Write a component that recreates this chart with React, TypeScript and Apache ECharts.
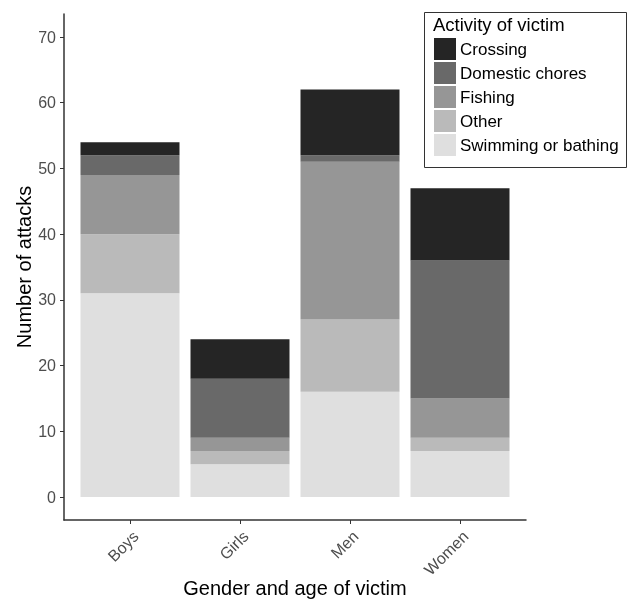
import React, { useEffect, useRef } from "react";
import * as echarts from "echarts";

const categories = ["Boys", "Girls", "Men", "Women"];
const swimming = [31, 5, 16, 7];
const other = [9, 2, 11, 2];
const fishing = [9, 2, 24, 6];
const domestic = [3, 9, 1, 21];
const crossing = [2, 6, 10, 11];
const yTicks = [0, 10, 20, 30, 40, 50, 60, 70];
const legendOrder = ["Crossing", "Domestic chores", "Fishing", "Other", "Swimming or bathing"];

const FONT = "Liberation Sans, Arial, Helvetica, sans-serif";

export default function App() {
  const ref = useRef<HTMLDivElement>(null);
  useEffect(() => {
    if (!ref.current) return;
    const chart = echarts.init(ref.current, undefined, { renderer: "svg" });
    const mk = (name: string, data: number[], color: string) => ({
      name,
      type: "bar",
      stack: "total",
      xAxisIndex: 0,
      yAxisIndex: 0,
      barWidth: "90%",
      data,
      itemStyle: { color },
      emphasis: { disabled: true },
    });
    chart.setOption({
      animation: false,
      textStyle: { fontFamily: FONT },
      grid: [
        { left: 75, width: 440, top: 14, height: 506, containLabel: false, outerBoundsMode: "none" },
        { left: 64, width: 462, top: 14, height: 506, containLabel: false, outerBoundsMode: "none" },
      ],
      xAxis: [
        {
          type: "category",
          gridIndex: 0,
          data: categories,
          axisLine: { show: false, onZero: false },
          axisTick: { show: true, alignWithLabel: true, length: 4, lineStyle: { color: "#333", width: 1 } },
          axisLabel: { rotate: 45, fontSize: 16, color: "#4d4d4d", margin: 8, verticalAlign: "top", fontFamily: FONT },
          name: "Gender and age of victim",
          nameLocation: "middle",
          nameMoveOverlap: false,
          nameGap: 58,
          nameTextStyle: { fontSize: 20, color: "#000", fontFamily: FONT },
        },
        {
          type: "value",
          gridIndex: 1,
          min: 0,
          max: 1,
          axisLine: { show: true, onZero: false, lineStyle: { color: "#333", width: 1.5 } },
          axisTick: { show: false },
          axisLabel: { show: false },
          splitLine: { show: false },
        },
      ],
      yAxis: [
        {
          type: "value",
          gridIndex: 0,
          min: -3.5,
          max: 73.5,
          offset: 11,
          axisLine: { show: true, onZero: false, lineStyle: { color: "#333", width: 1.5 } },
          axisTick: { show: true, length: 4, customValues: yTicks, lineStyle: { color: "#333", width: 1 } },
          axisLabel: { fontSize: 16, color: "#4d4d4d", margin: 8, customValues: yTicks, fontFamily: FONT },
          splitLine: { show: false },
          name: "Number of attacks",
          nameLocation: "middle",
          nameMoveOverlap: false,
          nameGap: 30,
          nameTextStyle: { fontSize: 20, color: "#000", fontFamily: FONT },
        },
        {
          type: "value",
          gridIndex: 1,
          show: false,
          min: 0,
          max: 1,
        },
      ],
      legend: {
        data: legendOrder,
        orient: "vertical",
        left: 434,
        top: 38,
        itemWidth: 22,
        itemHeight: 22,
        itemGap: 2,
        padding: 0,
        selectedMode: false,
        icon: "rect",
        textStyle: { fontSize: 17, color: "#000", fontFamily: FONT, padding: [0, 0, 0, -1] },
      },
      graphic: [
        {
          type: "rect",
          left: 424,
          top: 12,
          shape: { width: 202, height: 155 },
          style: { fill: "#fff", stroke: "#333", lineWidth: 1 },
          z: -1,
        },
        {
          type: "text",
          left: 433,
          top: 15,
          style: { text: "Activity of victim", fontSize: 18.5, fill: "#000", fontFamily: FONT },
        },
      ],
      series: [
        mk("Swimming or bathing", swimming, "#dfdfdf"),
        mk("Other", other, "#bababa"),
        mk("Fishing", fishing, "#969696"),
        mk("Domestic chores", domestic, "#696969"),
        mk("Crossing", crossing, "#252525"),
      ],
    });
    return () => chart.dispose();
  }, []);
  return <div ref={ref} style={{ position: "fixed", left: 0, top: 0, width: 627, height: 600 }} />;
}
